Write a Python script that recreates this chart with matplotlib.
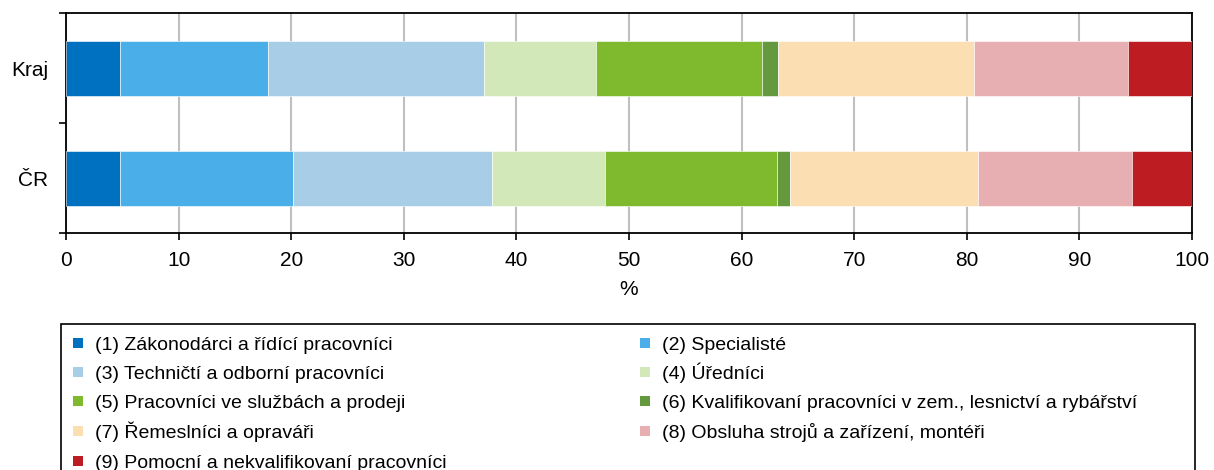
import matplotlib.pyplot as plt
from matplotlib.patches import Rectangle
import numpy as np

plt.rcParams["font.family"] = ["Liberation Sans", "DejaVu Sans"]

regions = ["Kraj", "ČR"]
labels = [
    "(1) Zákonodárci a řídící pracovníci",
    "(2) Specialisté",
    "(3) Techničtí a odborní pracovníci",
    "(4) Úředníci",
    "(5) Pracovníci ve službách a prodeji",
    "(6) Kvalifikovaní pracovníci v zem., lesnictví a rybářství",
    "(7) Řemeslníci a opraváři",
    "(8) Obsluha strojů a zařízení, montéři",
    "(9) Pomocní a nekvalifikovaní pracovníci",
]
kraj = [4.83, 13.11, 19.19, 9.97, 14.75, 1.39, 17.39, 13.73, 5.64]
cr = [4.83, 15.37, 17.63, 10.07, 15.24, 1.15, 16.69, 13.72, 5.30]
colors = ["#0070C0", "#4AAFE8", "#A7CDE7", "#D3E8B8", "#7FBA2E",
          "#64993E", "#FCDEB3", "#E7AFB2", "#BE1C23"]

W, H = 1214, 470
fig = plt.figure(figsize=(W / 100, H / 100), dpi=100)
ax = fig.add_axes([66 / W, 1 - 233 / H, 1126 / W, 220 / H])

data = np.array([kraj, cr])
ypos = np.arange(len(regions))
left = np.zeros(len(regions))
for i in range(len(labels)):
    ax.barh(ypos, data[:, i], left=left, height=0.5, color=colors[i],
            edgecolor="white", linewidth=0.4, label=labels[i], zorder=3)
    left += data[:, i]

ax.set_xlim(0, 100)
ax.set_ylim(1.5, -0.5)
ax.set_xticks(range(0, 101, 10))
ax.set_yticks(ypos)
ax.set_yticklabels(regions)
ax.set_yticks([-0.5, 0.5, 1.5], minor=True)
ax.tick_params(axis="y", which="major", length=0, pad=13, labelsize=15)
ax.tick_params(axis="y", which="minor", length=5, width=1.2, direction="out")
ax.tick_params(axis="x", length=5, width=1.2, direction="out", labelsize=15, pad=8)
ax.grid(axis="x", color="#C0C0C0", linewidth=1.5, zorder=0)
ax.set_xlabel("%", fontsize=15, labelpad=7)
for s in ax.spines.values():
    s.set_linewidth(1.3)
    s.set_color("black")

# legend drawn row by row (two columns, row-major order like the original)
frame = Rectangle((61 / W, -0.05), (1195 - 61) / W, 0.05 + 1 - 324 / H,
                  transform=fig.transFigure, facecolor="white",
                  edgecolor="black", linewidth=1.2)
fig.patches.append(frame)
col_x = [73, 640]
row_y = [343, 372, 401, 431, 461]
sq = 10
for i, lab in enumerate(labels):
    r, c = divmod(i, 2)
    x0, y0 = col_x[c], row_y[r]
    fig.patches.append(Rectangle((x0 / W, 1 - (y0 + sq / 2) / H), sq / W, sq / H,
                                 transform=fig.transFigure, facecolor=colors[i],
                                 edgecolor="none"))
    fig.text((x0 + 22) / W, 1 - (y0 + 7) / H, lab, fontsize=14,
             va="baseline", ha="left")

fig.savefig("out.png", dpi=100)
